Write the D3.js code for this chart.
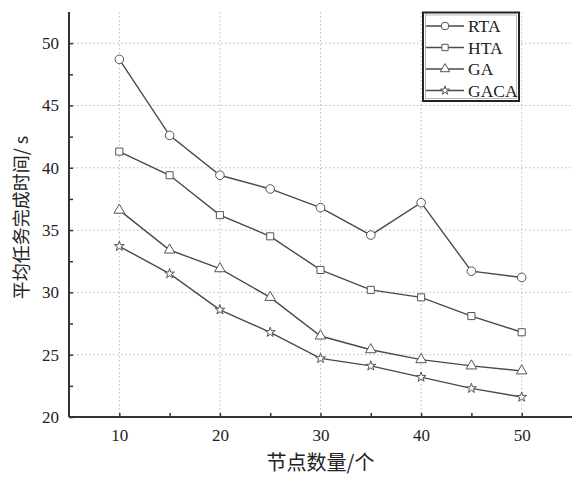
<!DOCTYPE html>
<html><head><meta charset="utf-8">
<script src="https://cdn.jsdelivr.net/npm/d3@7/dist/d3.min.js"></script>
<style>
html,body{margin:0;padding:0;background:#fff;}
svg{display:block;font-family:"Liberation Serif","Noto Sans CJK SC",serif;}
</style></head><body>
<svg id="c" width="582" height="479"></svg>
<script>
const nodes = [10, 15, 20, 25, 30, 35, 40, 45, 50];
const rta  = [48.7, 42.6, 39.4, 38.3, 36.8, 34.6, 37.2, 31.7, 31.2];
const hta  = [41.3, 39.4, 36.2, 34.5, 31.8, 30.2, 29.6, 28.1, 26.8];
const ga   = [36.6, 33.4, 31.9, 29.6, 26.5, 25.4, 24.6, 24.1, 23.7];
const gaca = [33.7, 31.5, 28.6, 26.8, 24.7, 24.1, 23.2, 22.3, 21.6];
const seriesNames = ["RTA", "HTA", "GA", "GACA"];
const xTicks = [10, 20, 30, 40, 50];
const yTicks = [20, 25, 30, 35, 40, 45, 50];
const xLabel = "节点数量/个";
const yLabel = "平均任务完成时间/ s";

const series = [
  {name: seriesNames[0], values: rta,  symbol: d3.symbolCircle, size: 58},
  {name: seriesNames[1], values: hta,  symbol: d3.symbolSquare, size: 50},
  {name: seriesNames[2], values: ga,   symbol: d3.symbolTriangle, size: 48},
  {name: seriesNames[3], values: gaca, symbol: d3.symbolStar, size: 30}
];

const svg = d3.select("#c");
const L = 69, R = 572, T = 12, B = 417;
const x = d3.scaleLinear().domain([5, 55]).range([L, R]);
const y = d3.scaleLinear().domain([20, 52.5]).range([B, T]);

const ink = "#333";
const lineCol = "#4a4a4a";
const markCol = "#555";

// grid
const g = svg.append("g");
g.selectAll("line.gx").data(xTicks).enter().append("line")
  .attr("x1", d => x(d)).attr("x2", d => x(d)).attr("y1", T).attr("y2", B)
  .attr("stroke", "#bbb").attr("stroke-width", 1).attr("stroke-dasharray", "1.5,2.5");
g.selectAll("line.gy").data(yTicks.filter(d => d > 20)).enter().append("line")
  .attr("x1", L).attr("x2", R).attr("y1", d => y(d)).attr("y2", d => y(d))
  .attr("stroke", "#bbb").attr("stroke-width", 1).attr("stroke-dasharray", "1.5,2.5");

// axes
const xAxis = d3.axisBottom(x).tickValues(d3.range(10, 55, 5)).tickSize(-4).tickPadding(12)
  .tickFormat(d => xTicks.includes(d) ? d : "");
const ax = svg.append("g").attr("transform", `translate(0,${B})`).call(xAxis);
const yAxis = d3.axisLeft(y).tickValues(d3.range(20, 52.5, 2.5)).tickSize(-4).tickPadding(10)
  .tickFormat(d => yTicks.includes(d) ? d : "");
const ay = svg.append("g").attr("transform", `translate(${L},0)`).call(yAxis);
[ax, ay].forEach(a => {
  a.attr("font-family", null);
  a.select(".domain").attr("stroke", ink).attr("stroke-width", 2);
  a.selectAll(".tick line").attr("stroke", ink).attr("stroke-width", 1.5);
  a.selectAll(".tick text").attr("fill", "#222").attr("font-size", 17)
    .style("font-family", "'Liberation Serif', serif");
});
ax.select(".domain").attr("d", `M${L},0H${R}`);
ay.select(".domain").attr("d", `M0,${B}V${T}`);

// lines
const line = d3.line().x((d, i) => x(nodes[i])).y(d => y(d));
series.forEach(s => {
  svg.append("path").datum(s.values).attr("d", line)
    .attr("fill", "none").attr("stroke", lineCol).attr("stroke-width", 1.4);
  svg.selectAll(null).data(s.values).enter().append("path")
    .attr("d", d3.symbol().type(s.symbol).size(s.size))
    .attr("transform", (d, i) => `translate(${x(nodes[i])},${y(d)})`)
    .attr("fill", "#fff").attr("stroke", markCol).attr("stroke-width", 1);
});

// legend
const lg = svg.append("g");
lg.append("rect").attr("x", 423).attr("y", 12.5).attr("width", 96).attr("height", 88.5)
  .attr("fill", "#fff").attr("stroke", "#222").attr("stroke-width", 2);
lg.append("rect").attr("x", 425.5).attr("y", 15).attr("width", 91).attr("height", 83.5)
  .attr("fill", "none").attr("stroke", "#888").attr("stroke-width", 0.6);
series.forEach((s, i) => {
  const yy = 26 + i * 21.5;
  lg.append("line").attr("x1", 426).attr("x2", 464).attr("y1", yy).attr("y2", yy)
    .attr("stroke", lineCol).attr("stroke-width", 1.4);
  lg.append("path").attr("d", d3.symbol().type(s.symbol).size(s.size * 0.8))
    .attr("transform", `translate(445,${yy})`)
    .attr("fill", "#fff").attr("stroke", markCol).attr("stroke-width", 1);
  lg.append("text").attr("x", 468).attr("y", yy).attr("dy", "0.35em")
    .attr("font-size", 17.5).attr("fill", "#222").text(s.name);
});

// axis labels
svg.append("text").attr("x", (L + R) / 2).attr("y", 463).attr("dy", "0.35em")
  .attr("text-anchor", "middle").attr("font-size", 20).attr("fill", "#222")
  .style("font-family", "'Noto Sans CJK SC', sans-serif").text(xLabel);
svg.append("text").attr("transform", `translate(22,${(T + B) / 2 + 3}) rotate(-90)`)
  .attr("dy", "0.35em").attr("text-anchor", "middle").attr("font-size", 18).attr("fill", "#222")
  .style("font-family", "'Noto Sans CJK SC', sans-serif").text(yLabel);
</script>
</body></html>
